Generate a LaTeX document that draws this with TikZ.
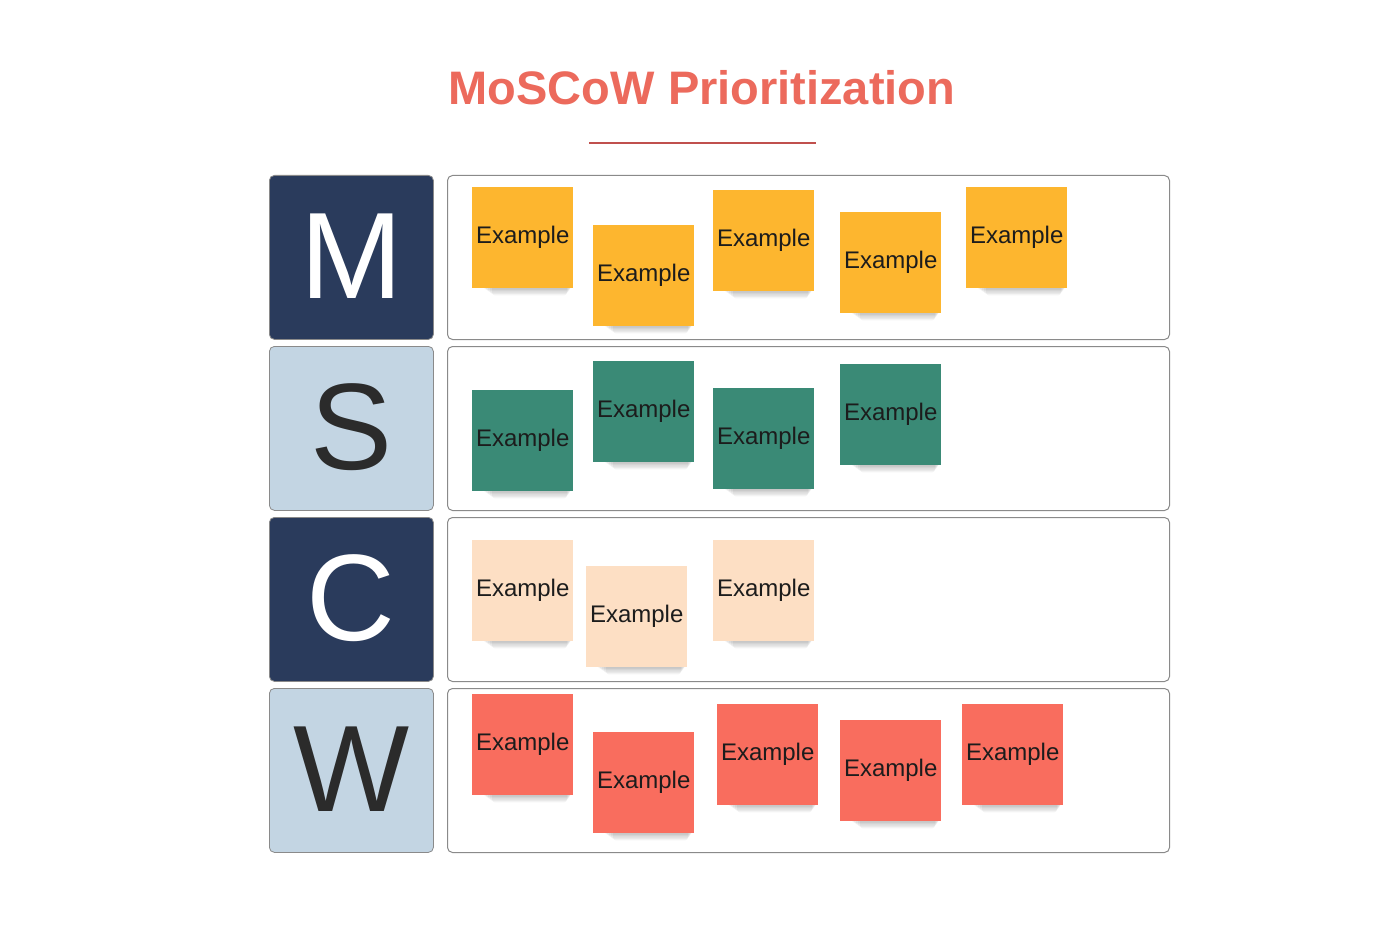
\documentclass[tikz,border=0pt]{standalone}
\usepackage{fontspec}
\setmainfont{Liberation Sans}
\definecolor{navy}{HTML}{2A3B5C}
\definecolor{lightblue}{HTML}{C3D5E3}
\definecolor{mustc}{HTML}{FDB62F}
\definecolor{shouldc}{HTML}{3A8A76}
\definecolor{couldc}{HTML}{FDDFC4}
\definecolor{wontc}{HTML}{F96D5E}
\definecolor{titlec}{HTML}{EC6A5C}
\definecolor{linec}{HTML}{C0504D}
\definecolor{darktext}{HTML}{2B2B2B}
\definecolor{notetext}{HTML}{1C1C1C}
\definecolor{bordc}{HTML}{8A8A8A}
\tikzset{
  panel/.style={draw=bordc, line width=1pt, rounded corners=5pt, fill=white,
    minimum width=722pt, minimum height=164pt, anchor=north west, inner sep=0pt},
  letterbox/.style={draw=bordc, line width=0.8pt, rounded corners=5pt,
    minimum width=164pt, minimum height=164pt, anchor=north west, inner sep=0pt,
    font=\fontsize{123}{123}\selectfont, text height=82pt, text depth=0pt},
  sticky/.style={fill=#1, inner sep=0pt, minimum width=101pt, minimum height=101pt,
    anchor=north west, font=\fontsize{24}{24}\selectfont, text=notetext,
    text height=17pt, text depth=6pt},
}
\newcommand\stickyshadow[2]{%
  \foreach \k in {1,...,6}{%
    \fill[black, opacity=0.045, rounded corners=3pt]
      ({#1+8+2*\k},{#2+95}) rectangle ({#1+101-\k},{#2+100+1.4*\k});
  }%
}
\newcommand\stickynote[4]{% name, x, y, color
  \stickyshadow{#2}{#3}
  \node[sticky=#4] (#1) at (#2,#3) {Example};
}
\begin{document}
\begin{tikzpicture}[x=1pt,y=-1pt]
\useasboundingbox (0,0) rectangle (1400,933);
\fill[white] (0,0) rectangle (1400,933);

% title
\node[anchor=base, font=\bfseries\fontsize{47}{47}\selectfont, text=titlec, inner sep=0pt]
  (title) at (702,105) {MoSCoW Prioritization};
\coordinate (ulA) at (589,143);
\coordinate (ulB) at (816,143);
\draw[linec, line width=1.2pt] (ulA) -- (ulB);

% letter boxes
\node[letterbox, fill=navy, text=white] (M) at (269,175) {M};
\node[letterbox, fill=lightblue, text=darktext] (S) at (269,346) {S};
\node[letterbox, fill=navy, text=white] (C) at (269,517) {C};
\node[letterbox, fill=lightblue, text=darktext] (W) at (269,688) {W};

% panels
\node[panel] (pM) at (447,175) {};
\node[panel] (pS) at (447,346) {};
\node[panel] (pC) at (447,517) {};
\node[panel] (pW) at (447,688) {};

% Must
\stickynote{m1}{472}{187}{mustc}
\stickynote{m2}{593}{225}{mustc}
\stickynote{m3}{713}{190}{mustc}
\stickynote{m4}{840}{212}{mustc}
\stickynote{m5}{966}{187}{mustc}

% Should
\stickynote{s1}{472}{390}{shouldc}
\stickynote{s2}{593}{361}{shouldc}
\stickynote{s3}{713}{388}{shouldc}
\stickynote{s4}{840}{364}{shouldc}

% Could
\stickynote{c1}{472}{540}{couldc}
\stickynote{c2}{586}{566}{couldc}
\stickynote{c3}{713}{540}{couldc}

% Won't
\stickynote{w1}{472}{694}{wontc}
\stickynote{w2}{593}{732}{wontc}
\stickynote{w3}{717}{704}{wontc}
\stickynote{w4}{840}{720}{wontc}
\stickynote{w5}{962}{704}{wontc}
\end{tikzpicture}
\end{document}
